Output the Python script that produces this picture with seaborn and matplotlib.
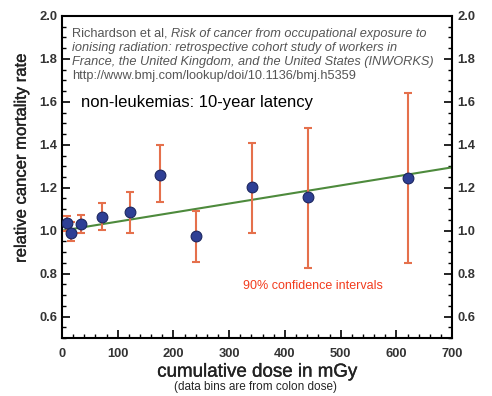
import numpy as np
import pandas as pd
import matplotlib
matplotlib.use("Agg")
import matplotlib.pyplot as plt
import matplotlib.patheffects as pe
import seaborn as sns
from matplotlib.ticker import MultipleLocator

# data
dose = [9, 16, 34, 72, 122, 175, 240, 341, 441, 621]
rate = [1.035, 0.99, 1.03, 1.065, 1.085, 1.26, 0.975, 1.205, 1.155, 1.245]
ci_low = [1.00, 0.95, 0.99, 1.005, 0.99, 1.135, 0.855, 0.99, 0.825, 0.85]
ci_high = [1.07, 1.04, 1.075, 1.13, 1.18, 1.40, 1.09, 1.41, 1.48, 1.64]
fit_dose = [0, 700]
fit_rate = [1.0, 1.295]
y_ticks = [0.6, 0.8, 1.0, 1.2, 1.4, 1.6, 1.8, 2.0]

cite_author = "Richardson et al, "
cite_lines = ["Risk of cancer from occupational exposure to",
              "ionising radiation: retrospective cohort study of workers in",
              "France, the United Kingdom, and the United States (INWORKS)"]
cite_url = "http://www.bmj.com/lookup/doi/10.1136/bmj.h5359"

sns.set_style("ticks")
plt.rcParams['font.family'] = ['Liberation Sans', 'DejaVu Sans']

df = pd.DataFrame({'dose': dose, 'rate': rate})
fit = pd.DataFrame({'dose': fit_dose, 'rate': fit_rate})

fig = plt.figure(figsize=(4.92, 3.96), dpi=100)
ax = fig.add_axes([0.126, 0.1465, 0.793, 0.8131])

sns.lineplot(data=fit, x='dose', y='rate', ax=ax, color='#4d8a3c', linewidth=1.5, zorder=2)

yerr = [np.array(rate) - np.array(ci_low), np.array(ci_high) - np.array(rate)]
ax.errorbar(dose, rate, yerr=yerr, fmt='none', ecolor='#e5704c', elinewidth=1.5,
            capsize=3, capthick=1.5, zorder=3)
sns.scatterplot(data=df, x='dose', y='rate', ax=ax, s=60, color='#2e3f95',
                edgecolor='#1c2660', linewidth=0.8, zorder=4)

ax.set_xlim(0, 700)
ax.set_ylim(0.5, 2.0)
ax.xaxis.set_major_locator(MultipleLocator(100))
ax.xaxis.set_minor_locator(MultipleLocator(20))
ax.yaxis.set_minor_locator(MultipleLocator(0.05))
ax.set_yticks(y_ticks)
ax.set_yticklabels([f"{v:.1f}" for v in y_ticks])

ax.tick_params(which='both', direction='in', left=True, right=True, bottom=True, top=False,
               labelleft=True, labelright=True, labelsize=9.3, labelcolor='#333333',
               color='black')
ax.tick_params(which='major', length=6, width=1.2)
ax.tick_params(axis='x', which='major', pad=7)
ax.tick_params(which='minor', length=3, width=1.0)
for lab in ax.get_xticklabels() + ax.get_yticklabels():
    lab.set_fontweight('bold')
for side in ['left', 'right', 'top', 'bottom']:
    ax.spines[side].set_visible(True)
    ax.spines[side].set_linewidth(1.5)
    ax.spines[side].set_color('black')

medium = [pe.withStroke(linewidth=0.25, foreground='#222222')]
ax.set_xlabel("cumulative dose in mGy", fontsize=13.5, color='#222222', path_effects=medium)
ax.xaxis.set_label_coords(0.5, -0.106)
ax.xaxis.label.set_va('center')
ax.set_ylabel("relative cancer mortality rate", fontsize=12, color='#222222',
              path_effects=medium)
ax.yaxis.set_label_coords(-0.085, 0.56)
fig.text(0.52, 0.023, "(data bins are from colon dose)", fontsize=8.5, ha='center', va='center')

# citation block
y0, dy = 0.945, 0.0435
first = ax.text(0.025, y0, cite_author, transform=ax.transAxes, fontsize=9.2,
                color='#555555', ha='left', va='center')
ax.annotate(cite_lines[0], xy=(1, 0.5), xycoords=first, fontsize=9.2, style='italic',
            color='#555555', ha='left', va='center')
for i, line in enumerate(cite_lines[1:], start=1):
    ax.text(0.025, y0 - i * dy, line, transform=ax.transAxes, fontsize=9.2,
            style='italic', color='#555555', ha='left', va='center')
ax.text(0.025, y0 - 3 * dy, cite_url, transform=ax.transAxes, fontsize=9.2,
        color='#555555', ha='left', va='center')

ax.text(0.05, 0.73, "non-leukemias: 10-year latency", transform=ax.transAxes,
        fontsize=12, color='black', ha='left', va='center')
ax.text(0.464, 0.161, "90% confidence intervals", transform=ax.transAxes,
        fontsize=9, color='#f23c1e', ha='left', va='center')

fig.savefig("out.png", dpi=100)
